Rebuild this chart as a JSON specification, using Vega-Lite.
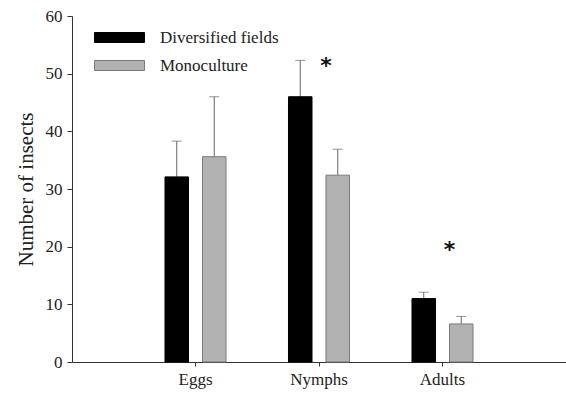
{
  "$schema": "https://vega.github.io/schema/vega-lite/v6.json",
  "width": 494,
  "height": 346,
  "autosize": "none",
  "padding": {"left": 72, "top": 16, "right": 0, "bottom": 32},
  "background": "white",
  "config": {
    "view": {"stroke": null},
    "font": "Liberation Serif",
    "axis": {"labelFont": "Liberation Serif", "titleFont": "Liberation Serif", "domainColor": "#333", "tickColor": "#333", "labelColor": "#222", "titleColor": "#222", "grid": false}
  },
  "data": {
    "values": [
      {"stage": "Eggs", "treatment": "Diversified fields", "mean": 32.1, "upper": 38.3},
      {"stage": "Eggs", "treatment": "Monoculture", "mean": 35.6, "upper": 46.0},
      {"stage": "Nymphs", "treatment": "Diversified fields", "mean": 46.0, "upper": 52.3},
      {"stage": "Nymphs", "treatment": "Monoculture", "mean": 32.4, "upper": 36.9},
      {"stage": "Adults", "treatment": "Diversified fields", "mean": 11.0, "upper": 12.1},
      {"stage": "Adults", "treatment": "Monoculture", "mean": 6.6, "upper": 7.9}
    ]
  },
  "encoding": {
    "x": {
      "field": "stage", "type": "nominal", "sort": ["Eggs", "Nymphs", "Adults"],
      "scale": {"paddingInner": 0, "paddingOuter": 0.5},
      "axis": {"title": null, "labelAngle": 0, "labelFontSize": 17, "tickSize": 4, "labelPadding": 5, "domainWidth": 1}
    },
    "xOffset": {
      "field": "treatment", "type": "nominal",
      "scale": {"paddingInner": 0.373, "paddingOuter": 0.833}
    }
  },
  "layer": [
    {
      "mark": {"type": "rule", "color": "#666", "strokeWidth": 1},
      "encoding": {
        "y": {"field": "mean", "type": "quantitative"},
        "y2": {"field": "upper"}
      }
    },
    {
      "mark": {"type": "tick", "color": "#666", "thickness": 1, "size": 10},
      "encoding": {
        "y": {"field": "upper", "type": "quantitative"}
      }
    },
    {
      "mark": {"type": "bar", "strokeWidth": 1},
      "encoding": {
        "y": {
          "field": "mean", "type": "quantitative",
          "scale": {"domain": [0, 60], "nice": false},
          "axis": {"title": "Number of insects", "values": [0, 10, 20, 30, 40, 50, 60], "labelFontSize": 17, "titleFontSize": 21, "titleFontWeight": "normal", "tickSize": 5, "labelPadding": 5, "titlePadding": 9}
        },
        "color": {
          "field": "treatment", "type": "nominal",
          "scale": {"domain": ["Diversified fields", "Monoculture"], "range": ["#000000", "#b2b2b2"]},
          "legend": {
            "title": null, "orient": "none", "legendX": 22, "legendY": 13,
            "symbolType": "M-1,-0.2H1V0.2H-1Z", "symbolSize": 2500,
            "symbolStrokeWidth": 1, "symbolStrokeColor": "#7a7a7a",
            "clipHeight": 17,
            "labelFont": "Liberation Serif", "labelFontSize": 17, "labelColor": "#222",
            "labelOffset": 15, "rowPadding": 10
          }
        },
        "stroke": {
          "field": "treatment", "type": "nominal",
          "scale": {"domain": ["Diversified fields", "Monoculture"], "range": ["#000000", "#7a7a7a"]},
          "legend": null
        }
      }
    },
    {
      "data": {"values": [{"stage": "Nymphs", "y": 51.4, "label": "*"}, {"stage": "Adults", "y": 19.4, "label": "*"}]},
      "mark": {"type": "text", "font": "DejaVu Sans", "fontWeight": "bold", "fontSize": 22, "dx": 7, "baseline": "middle", "color": "#111"},
      "encoding": {
        "xOffset": null,
        "y": {"field": "y", "type": "quantitative"},
        "text": {"field": "label"}
      }
    }
  ]
}
